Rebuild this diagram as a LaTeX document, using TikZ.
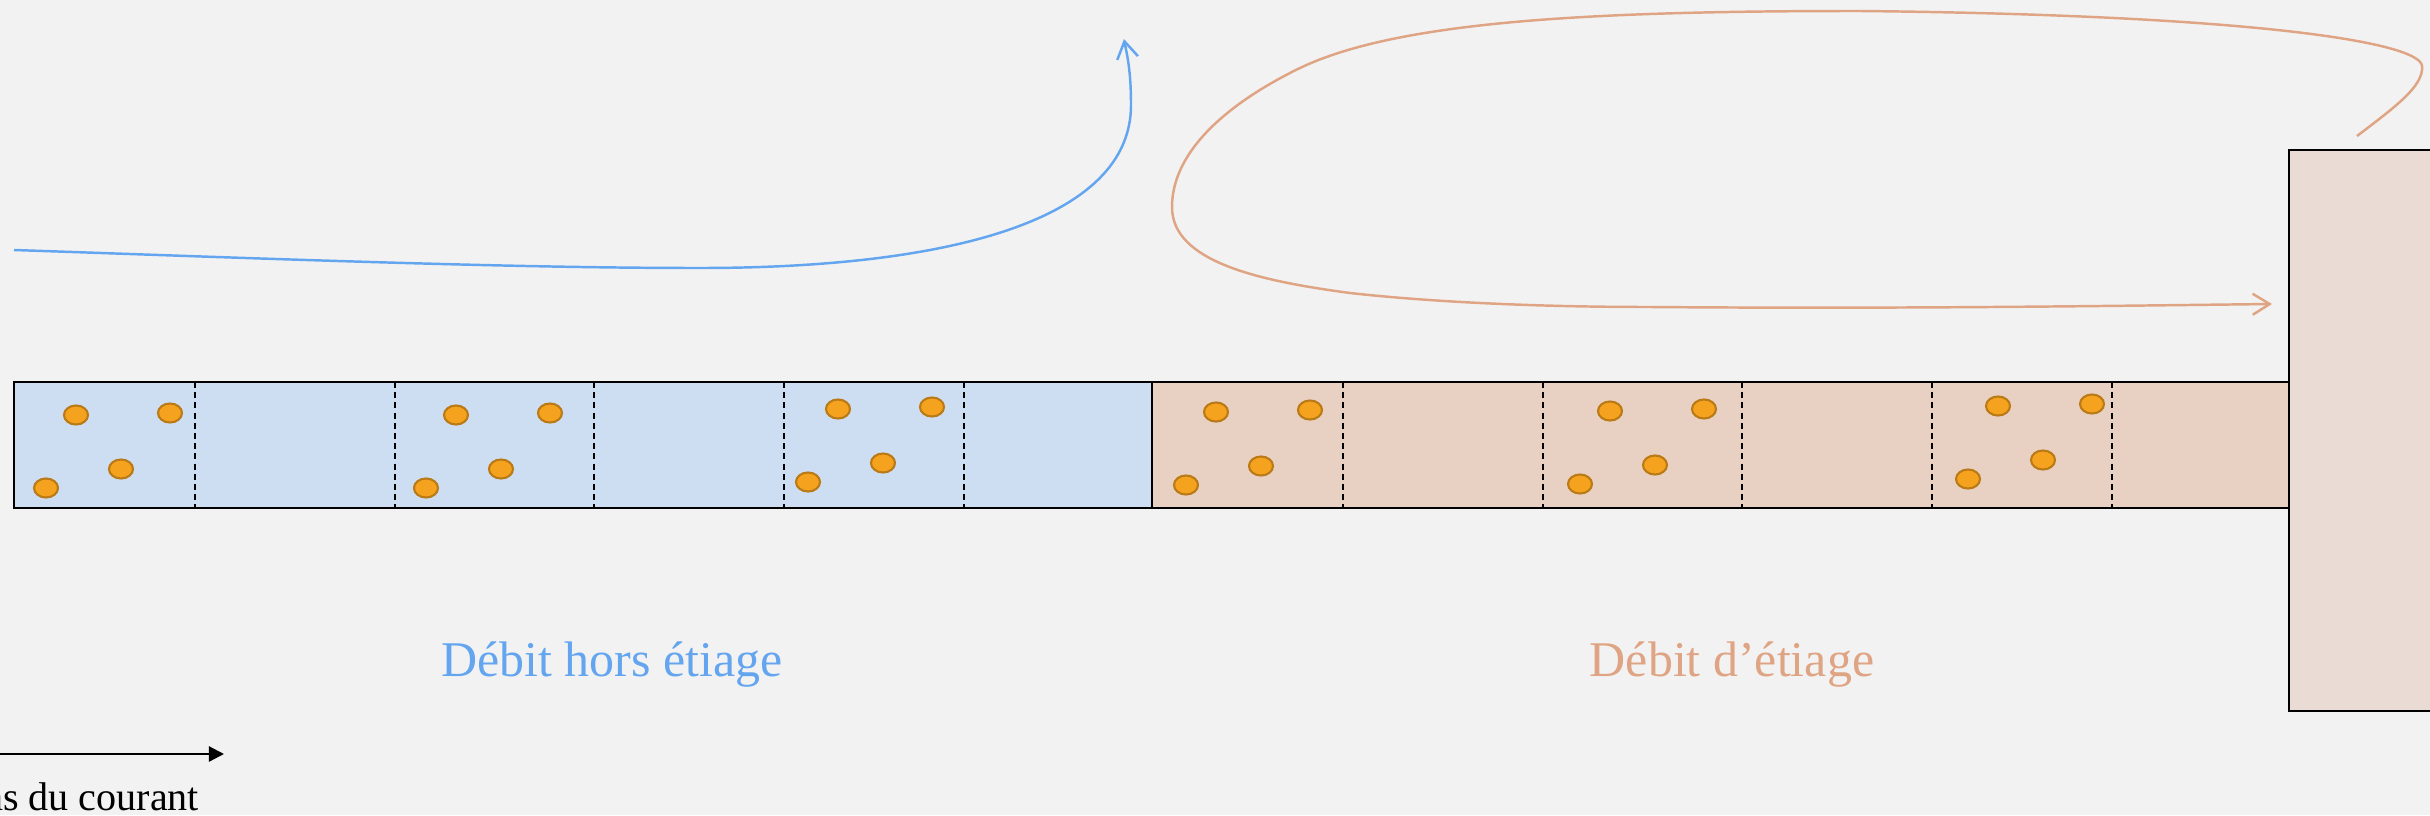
\documentclass[tikz,border=0pt]{standalone}
\usepackage{fontspec}
\setmainfont{Liberation Serif}
\usetikzlibrary{arrows.meta}

\definecolor{bg}{HTML}{F2F2F2}
\definecolor{highfill}{HTML}{CEDEF2}
\definecolor{lowfill}{HTML}{E8D0C3}
\definecolor{basinfill}{HTML}{EADBD4}
\definecolor{highcol}{HTML}{64A5F0}
\definecolor{lowcol}{HTML}{DFA483}
\definecolor{graincol}{HTML}{F5A31F}
\definecolor{grainedge}{HTML}{BA7A16}

\begin{document}
\begin{tikzpicture}[x=0.01cm,y=-0.01cm,
  section/.style={draw=black,line width=0.6pt},
  divider/.style={draw=black,line width=0.55pt,dash pattern=on 1.7pt off 1.2pt},
  grain/.style={fill=graincol,draw=grainedge,line width=0.6pt},
  flowhigh/.style={draw=highcol,line width=0.7pt,-{Straight Barb[length=0.17cm,width=0.21cm]}},
  flowlow/.style={draw=lowcol,line width=0.7pt,-{Straight Barb[length=0.17cm,width=0.21cm]}},
  labelfont/.style={font=\fontsize{14.2}{17}\selectfont},
  smallfont/.style={font=\fontsize{11.4}{14}\selectfont}]

% canvas
\useasboundingbox (0,0) rectangle (2430,815);
\fill[bg] (0,0) rectangle (2430,815);

% river reach: high-flow part and low-flow part
\draw[section,fill=highfill] (14,382) rectangle (1152,508);
\draw[section,fill=lowfill] (1152,382) rectangle (2289,508);

% cell boundaries
\foreach \x in {195,395,594,784,964,1343,1543,1742,1932,2112}
  \draw[divider] (\x,382) -- (\x,508);

% sediment grains
\foreach \ax/\ay in {76/415, 456/415, 838/409, 1216/412, 1610/411, 1998/406}
  \foreach \dx/\dy in {0/0, 94/-2, 45/54, -30/73}
    \path[grain] ({\ax+\dx},{\ay+\dy}) ellipse [x radius=0.12cm, y radius=0.095cm];

% receiving basin
\draw[section,fill=basinfill] (2289,150) rectangle (2480,711);

% flow paths
\coordinate (highS) at (14,250);
\coordinate (highE) at (1124,39);
\draw[flowhigh] (highS) .. controls (250,258) and (500,268) .. (700,268)
  .. controls (950,268) and (1131,220) .. (1131,105)
  .. controls (1131,70) and (1127,55) .. (highE);

\coordinate (lowS) at (2357,136);
\coordinate (lowE) at (2272,304);
\draw[flowlow] (lowS) .. controls (2395,107) and (2424,86) .. (2422,66)
  .. controls (2420,42) and (2250,15) .. (1860,11)
  .. controls (1600,11) and (1400,20) .. (1300,68)
  .. controls (1230,102) and (1172,150) .. (1172,207)
  .. controls (1172,262) and (1260,281) .. (1350,293)
  .. controls (1440,303) and (1550,307) .. (1650,307)
  .. controls (1900,309) and (2100,306) .. (lowE);

% labels
\node[labelfont,text=highcol,anchor=base,inner sep=0pt] (lblhigh) at (612,676) {Débit hors étiage};
\node[labelfont,text=lowcol,anchor=base,inner sep=0pt] (lbllow) at (1732,676) {Débit d’étiage};

% current direction
\coordinate (dirL) at (-80,754);
\coordinate (dirR) at (224,754);
\draw[line width=0.65pt,-{Triangle[length=0.15cm,width=0.15cm]}] (dirL) -- (dirR);
\node[smallfont,anchor=base,inner sep=0pt] (dirlbl) at (71,810) {Sens du courant};
\end{tikzpicture}
\end{document}
